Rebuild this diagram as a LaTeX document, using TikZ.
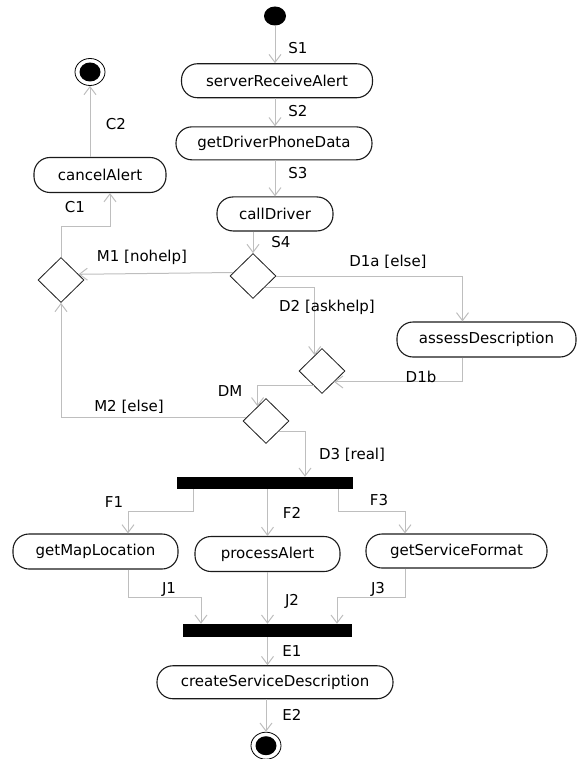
\documentclass[tikz,border=0pt]{standalone}
\usepackage{fontspec}
\setmainfont{DejaVu Sans}
\usepackage{tikz}
\usetikzlibrary{shapes.geometric, arrows.meta, positioning, calc}
\definecolor{umlink}{HTML}{1A1A1A}
\definecolor{flowgray}{HTML}{BEBEBE}

\begin{document}
\begin{tikzpicture}[x=1pt, y=1pt,
        action/.style={draw=umlink, line width=1.1pt, rounded corners=16pt, minimum height=34pt, inner sep=0pt, font=\fontsize{15}{18}\selectfont},
        choice/.style={diamond, draw=umlink, line width=0.8pt, minimum width=46pt, minimum height=45pt, inner sep=0pt},
        bar/.style={fill=black, inner sep=0pt},
        initial/.style={ellipse, fill=black, minimum width=22pt, minimum height=19pt, inner sep=0pt},
        final/.style={ellipse, draw=black, line width=0.8pt, minimum width=30pt, minimum height=27pt, inner sep=0pt,
            path picture={\fill[black] (path picture bounding box.center) ellipse (10.5pt and 9.5pt);}},
        line/.style={-{Straight Barb[length=8pt, width=12pt]}, flowgray, line width=1pt},
        lbl/.style={anchor=base, inner sep=0pt, font=\fontsize{15}{18}\selectfont, text=black}
    ]
        \useasboundingbox (0,0) rectangle (577,-759);

        \node (start) [initial] at (275,-16) {};
        \node (sra) [action, minimum width=191pt, below=37.5pt of start, xshift=2pt] {serverReceiveAlert};
        \node (gdpd) [action, minimum width=196pt, minimum height=33pt, below=28pt of sra, xshift=-3pt] {getDriverPhoneData};
        \node (call) [action, minimum width=116pt, below=36pt of gdpd, xshift=1pt] {callDriver};

        \node (ask) [choice] at (253,-276) {};
        \node (merge) [choice] at (61,-280) {};
        \node (cancel) [action, minimum width=132pt, minimum height=35pt] at (100,-175) {cancelAlert};
        \node (endA) [final] at (90,-72) {};
        \node (assess) [action, minimum width=179pt, minimum height=35pt] at (486.5,-339.5) {assessDescription};
        \node (help) [choice] at (322,-371) {};
        \node (dm) [choice] at (266,-421) {};

        \node (fork) [bar, minimum width=176pt, minimum height=12pt] at (265,-483) {};
        \node (map) [action, minimum width=165pt, minimum height=35pt] at (95.5,-551.5) {getMapLocation};
        \node (proc) [action, minimum width=145pt, minimum height=35pt] at (267.5,-554) {processAlert};
        \node (format) [action, minimum width=181pt] at (456.5,-551) {getServiceFormat};
        \node (join) [bar, minimum width=169pt, minimum height=13pt] at (267.5,-630.5) {};
        \node (create) [action, minimum width=236pt, minimum height=33pt, below=28pt of join, xshift=7.5pt] {createServiceDescription};
        \node (endB) [final, below=32.5pt of create, xshift=-9pt] {};

        % main flow
        \draw [line] (start) -- (start |- sra.north);
        \draw [line] (start |- sra.south) -- (start |- gdpd.north);
        \draw [line] (start |- gdpd.south) -- (start |- call.north);
        \draw [line] (ask.north |- call.south) -- (ask.north);

        % cancel branch
        \draw [line] (ask.170) -- (merge.18);
        \draw [line] (merge.north) -- ++(0,30.5) -| ([xshift=10pt]cancel.south);
        \draw [line] (endA |- cancel.north) -- (endA);

        % help / assess branch
        \draw [line] (ask.east) -| ([xshift=-24pt]assess.north);
        \draw [line] (ask.south east) -| (help.115);
        \draw [line] ([xshift=-24pt]assess.south) |- (help.-42);
        \draw [line] (help.-120) -| (dm.120);
        \draw [line] (dm.170) -| (merge.south);
        \draw [line] (dm.-40) -| ([xshift=40pt]fork.north);

        % fork and join
        \draw [line] ([xshift=-72pt]fork.south) -- ++(0,-22) -| ([xshift=32.5pt]map.north);
        \draw [line] (proc.north |- fork.south) -- (proc.north);
        \draw [line] ([xshift=73pt]fork.south) -- ++(0,-22) -| ([xshift=-51.5pt]format.north);
        \draw [line] ([xshift=32.5pt]map.south) -- ++(0,-28) -| ([xshift=-66.5pt]join.north);
        \draw [line] (proc.south) -- (proc.south |- join.north);
        \draw [line] ([xshift=-51.5pt]format.south) -- ++(0,-29) -| ([xshift=69.5pt]join.north);
        \draw [line] (join.south) -- (join.south |- create.north);
        \draw [line] (endB |- create.south) -- (endB);

        % labels
        \node [lbl] at (298,-54) {S1};
        \node [lbl] at (298,-117) {S2};
        \node [lbl] at (298,-179) {S3};
        \node [lbl] at (281,-247) {S4};
        \node [lbl] at (75,-213) {C1};
        \node [lbl] at (116,-130) {C2};
        \node [lbl] at (142,-261) {M1 [nohelp]};
        \node [lbl] at (388,-266) {D1a [else]};
        \node [lbl] at (327,-311) {D2 [askhelp]};
        \node [lbl] at (421,-382) {D1b};
        \node [lbl] at (230,-396) {DM};
        \node [lbl] at (129,-411) {M2 [else]};
        \node [lbl] at (352,-459) {D3 [real]};
        \node [lbl] at (114,-507) {F1};
        \node [lbl] at (292,-518) {F2};
        \node [lbl] at (379,-505) {F3};
        \node [lbl] at (169,-593) {J1};
        \node [lbl] at (292,-605) {J2};
        \node [lbl] at (378,-593) {J3};
        \node [lbl] at (292,-656) {E1};
        \node [lbl] at (292,-720) {E2};
    \end{tikzpicture}
\end{document}
